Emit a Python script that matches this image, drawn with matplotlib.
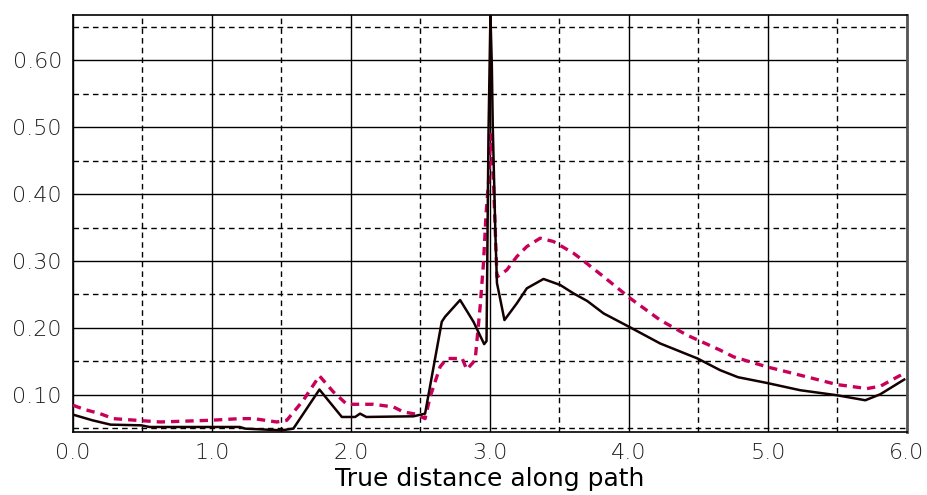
import matplotlib.pyplot as plt
from matplotlib.ticker import MultipleLocator

# solid black curve
x_black = [0.0, 0.14, 0.27, 0.49, 0.55, 1.2, 1.24, 1.50, 1.585, 1.773, 1.934, 2.03, 2.065, 2.11,
           2.45, 2.533, 2.653, 2.677, 2.785, 2.881, 2.958, 2.975, 2.989, 3.003, 3.013, 3.02,
           3.03, 3.038, 3.05, 3.104, 3.193, 3.265, 3.385, 3.505, 3.60, 3.70, 3.817, 4.009,
           4.224, 4.493, 4.656, 4.784, 4.992, 5.232, 5.496, 5.70, 5.808, 5.98]
y_black = [0.070, 0.0615, 0.055, 0.054, 0.0515, 0.0515, 0.049, 0.0465, 0.049, 0.1075, 0.0665,
           0.0665, 0.0715, 0.0665, 0.0675, 0.0715, 0.209, 0.2165, 0.2415, 0.209, 0.1755,
           0.18, 0.489, 0.668, 0.594, 0.50, 0.416, 0.346, 0.267, 0.2115, 0.2365, 0.259, 0.273,
           0.264, 0.2515, 0.24, 0.2215, 0.2005, 0.1765, 0.154, 0.1365, 0.126, 0.1174, 0.1065,
           0.099, 0.0915, 0.1005, 0.1225]

# dashed crimson curve
x_red = [0.0, 0.086, 0.194, 0.29, 0.458, 0.626, 0.986, 1.202, 1.30, 1.466, 1.538, 1.657, 1.773,
         1.873, 1.97, 2.161, 2.305, 2.377, 2.473, 2.533, 2.569, 2.641, 2.689, 2.80, 2.833,
         2.893, 2.929, 2.953, 2.972, 2.989, 3.005, 3.025, 3.035, 3.05, 3.121, 3.193, 3.265,
         3.361, 3.457, 3.601, 3.649, 3.817, 4.009, 4.224, 4.417, 4.656, 4.752, 4.992, 5.232,
         5.496, 5.712, 5.808, 5.976]
y_red = [0.084, 0.0775, 0.0715, 0.064, 0.0615, 0.059, 0.0615, 0.064, 0.064, 0.059, 0.0615,
         0.0915, 0.128, 0.104, 0.0855, 0.0855, 0.0815, 0.074, 0.0705, 0.064, 0.0965, 0.1415,
         0.154, 0.154, 0.1375, 0.1515, 0.2315, 0.2965, 0.3715, 0.4165, 0.489, 0.419, 0.3615,
         0.276, 0.2865, 0.3065, 0.3215, 0.334, 0.329, 0.3115, 0.304, 0.2765, 0.244, 0.2115,
         0.189, 0.1665, 0.1565, 0.1415, 0.129, 0.115, 0.109, 0.1125, 0.1315]

fig = plt.figure(figsize=(9.28, 4.95), dpi=100)
ax = fig.add_axes([73 / 928, 1 - 432 / 495, 834 / 928, 417 / 495])

ax.set_xlim(0, 6.0)
ax.set_ylim(0.044, 0.668)

ax.xaxis.set_minor_locator(MultipleLocator(0.5))
ax.yaxis.set_minor_locator(MultipleLocator(0.05))
ax.set_xticks([0, 1, 2, 3, 4, 5, 6])
ax.set_xticklabels(['0.0', '1.0', '2.0', '3.0', '4.0', '5.0', '6.0'])
ax.set_yticks([0.1, 0.2, 0.3, 0.4, 0.5, 0.6])
ax.set_yticklabels(['0.10', '0.20', '0.30', '0.40', '0.50', '0.60'])

ax.grid(which='major', color='black', linewidth=1.0, linestyle='-')
ax.grid(which='minor', color='black', linewidth=1.0, linestyle=(0, (4, 3)))
ax.set_axisbelow(True)

ax.tick_params(which='both', length=0, labelsize=16, labelcolor='#1e1e1e', pad=8)
for lab in ax.get_xticklabels() + ax.get_yticklabels():
    lab.set_fontweight('light')

for s in ax.spines.values():
    s.set_color('black')
    s.set_linewidth(1.2)
ax.spines['right'].set_linewidth(2.0)
ax.spines['right'].set_color('#555555')

ax.plot(x_red, y_red, color='#c8005a', linewidth=2.4, linestyle=(0, (2.5, 1.8)), zorder=3)
ax.plot(x_black, y_black, color='#140000', linewidth=1.8, zorder=4)

ax.set_xlabel('True distance along path', fontsize=18, family='DejaVu Sans', labelpad=3)

plt.savefig('out.png', dpi=100)
